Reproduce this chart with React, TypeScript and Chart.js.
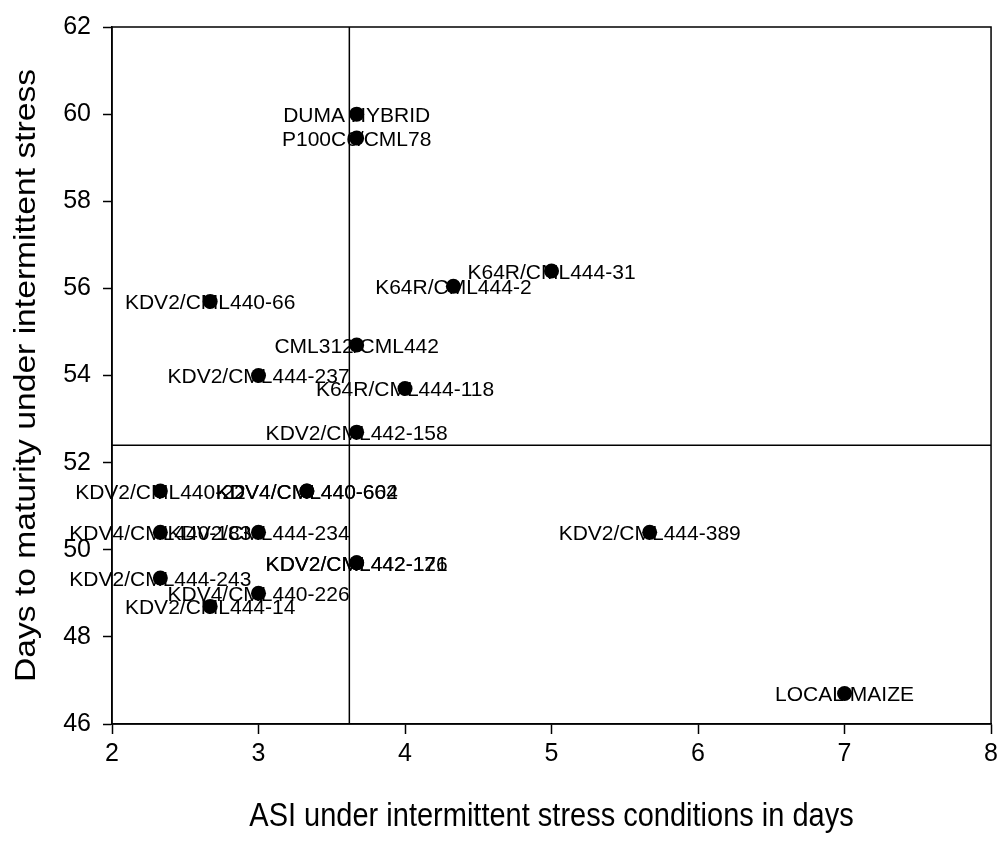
import React, { useEffect, useRef } from "react";
import { Chart, registerables } from "chart.js";

Chart.register(...registerables);

const genotypes = [
  "DUMA HYBRID",
  "P100C6/CML78",
  "K64R/CML444-31",
  "K64R/CML444-2",
  "KDV2/CML440-66",
  "CML312/CML442",
  "KDV2/CML444-237",
  "K64R/CML444-118",
  "KDV2/CML442-158",
  "KDV2/CML440-22",
  "KDV4/CML440-604",
  "KDV4/CML440-662",
  "KDV4/CML440-183",
  "KDV2/CML444-234",
  "KDV2/CML444-389",
  "KDV2/CML442-121",
  "KDV2/CML442-176",
  "KDV2/CML444-243",
  "KDV4/CML440-226",
  "KDV2/CML444-14",
  "LOCAL MAIZE",
];

const asiDays = [
  3.67, 3.67, 5.0, 4.33, 2.67, 3.67, 3.0, 4.0, 3.67, 2.33, 3.33, 3.33, 2.33, 3.0,
  5.67, 3.67, 3.67, 2.33, 3.0, 2.67, 7.0,
];

const maturityDays = [
  60.0, 59.45, 56.4, 56.05, 55.7, 54.7, 54.0, 53.7, 52.7, 51.35, 51.35, 51.35,
  50.4, 50.4, 50.4, 49.7, 49.7, 49.35, 49.0, 48.7, 46.7,
];

const xTickValues = [2, 3, 4, 5, 6, 7, 8];
const yTickValues = [46, 48, 50, 52, 54, 56, 58, 60, 62];

const meanASI = 3.62;
const meanMaturity = 52.4;

const xTitle = "ASI under intermittent stress conditions in days";
const yTitle = "Days to maturity under intermittent stress";

const FONT = "'Liberation Sans', Arial, Helvetica, sans-serif";

const decorPlugin = {
  id: "decor",
  beforeDatasetsDraw(chart: any) {
    const { ctx, chartArea, scales } = chart;
    const { left, right, top, bottom } = chartArea;
    ctx.save();
    // reference (mean) lines
    ctx.strokeStyle = "#000";
    ctx.lineWidth = 1.5;
    const vx = scales.x.getPixelForValue(meanASI);
    const hy = scales.y.getPixelForValue(meanMaturity);
    ctx.beginPath();
    ctx.moveTo(vx, top);
    ctx.lineTo(vx, bottom);
    ctx.moveTo(left, hy);
    ctx.lineTo(right, hy);
    ctx.stroke();
    // point labels
    ctx.fillStyle = "#000";
    ctx.font = `21px ${FONT}`;
    ctx.textAlign = "center";
    ctx.textBaseline = "middle";
    const meta = chart.getDatasetMeta(0);
    meta.data.forEach((pt: any, i: number) => {
      ctx.fillText(genotypes[i], pt.x, pt.y + 2);
    });
    ctx.restore();
  },
  afterDraw(chart: any) {
    const { ctx, chartArea } = chart;
    const { left, right, top, bottom } = chartArea;
    ctx.save();
    ctx.strokeStyle = "#000";
    ctx.lineWidth = 1.5;
    ctx.strokeRect(left, top, right - left, bottom - top);
    ctx.fillStyle = "#000";
    ctx.font = `29px ${FONT}`;
    ctx.textAlign = "center";
    ctx.textBaseline = "middle";
    ctx.save();
    ctx.translate((left + right) / 2, 817);
    ctx.scale(1, 1.16);
    ctx.fillText(xTitle, 0, 0);
    ctx.restore();
    ctx.save();
    ctx.translate(27, (top + bottom) / 2);
    ctx.rotate(-Math.PI / 2);
    ctx.scale(1.16, 1);
    ctx.fillText(yTitle, 0, 0);
    ctx.restore();
    ctx.restore();
  },
};

export default function App() {
  const canvasRef = useRef<HTMLCanvasElement | null>(null);

  useEffect(() => {
    if (!canvasRef.current) return;
    const points = asiDays.map((x, i) => ({ x, y: maturityDays[i] }));
    const chart = new Chart(canvasRef.current, {
      type: "scatter",
      data: {
        datasets: [
          {
            label: "Genotypes",
            data: points,
            backgroundColor: "#000",
            borderColor: "#000",
            borderWidth: 0,
            pointRadius: 7.5,
            pointHoverRadius: 7.5,
          },
        ],
      },
      options: {
        animation: false,
        responsive: true,
        maintainAspectRatio: false,
        layout: { padding: { left: 0, right: 10, top: 22, bottom: 0 } },
        plugins: {
          legend: { display: false },
          tooltip: { enabled: false },
        },
        scales: {
          x: {
            type: "linear",
            min: 2,
            max: 8,
            afterBuildTicks: (scale: any) => {
              scale.ticks = xTickValues.map((v) => ({ value: v }));
            },
            ticks: {
              color: "#000",
              font: { family: FONT, size: 25 },
              padding: 5,
              autoSkip: false,
              maxRotation: 0,
              callback: (v: any) => String(v),
            },
            grid: {
              display: true,
              drawOnChartArea: false,
              drawTicks: true,
              tickLength: 10,
              tickColor: "#000",
              tickWidth: 1.5,
            },
            border: { display: true, color: "#000", width: 1.5 },
            afterFit: (scale: any) => {
              scale.height = 117;
            },
          },
          y: {
            type: "linear",
            min: 46,
            max: 62,
            afterBuildTicks: (scale: any) => {
              scale.ticks = yTickValues.map((v) => ({ value: v }));
            },
            ticks: {
              color: "#000",
              font: { family: FONT, size: 25 },
              padding: 12,
              autoSkip: false,
              callback: (v: any) => String(v),
            },
            grid: {
              display: true,
              drawOnChartArea: false,
              drawTicks: true,
              tickLength: 9,
              tickColor: "#000",
              tickWidth: 1.5,
            },
            border: { display: true, color: "#000", width: 1.5 },
            afterFit: (scale: any) => {
              scale.width = 112;
            },
          },
        },
      },
      plugins: [decorPlugin],
    });
    return () => chart.destroy();
  }, []);

  return (
    <div
      style={{
        position: "fixed",
        left: 0,
        top: 0,
        width: 1003,
        height: 841,
        background: "#fff",
      }}
    >
      <canvas ref={canvasRef} />
    </div>
  );
}
